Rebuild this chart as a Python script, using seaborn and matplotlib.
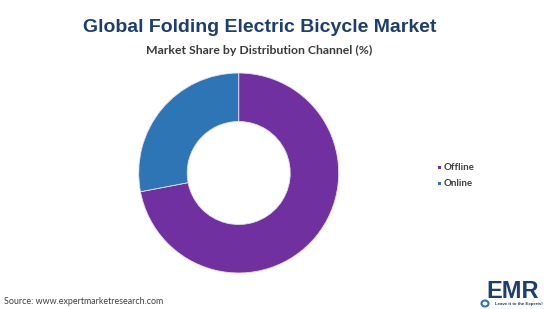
import matplotlib
matplotlib.use("Agg")
import matplotlib.pyplot as plt
import seaborn as sns

# Data
channels = ["Offline", "Online"]
shares = [72, 28]
colors = ["#7030A0", "#2E75B6"]

title = "Global Folding Electric Bicycle Market"
subtitle = "Market Share by Distribution Channel (%)"
source = "Source: www.expertmarketresearch.com"

sns.set_theme(style="white")
plt.rcParams['font.family'] = ['Liberation Sans', 'DejaVu Sans']

W, H = 550, 309
fig = plt.figure(figsize=(W / 100, H / 100), dpi=100)
fig.patch.set_facecolor("white")

# donut axes: center (238.7, 173), radius 100 px
cx, cy, r = 238.7, 173, 100
ax = fig.add_axes([(cx - r) / W, (H - cy - r) / H, 2 * r / W, 2 * r / H])
wedges, _ = ax.pie(shares, colors=colors, startangle=90, counterclock=False,
                   radius=1, wedgeprops=dict(width=0.485, edgecolor="#E8E0F0", linewidth=0.6))
ax.set_xlim(-1, 1)
ax.set_ylim(-1, 1)
ax.set_aspect("equal")
ax.axis("off")

# Title & subtitle
fig.text(260 / W, 1 - 28 / H, title, ha="center", va="center", fontsize=14,
         fontweight="bold", color="#1B3F70", family=['Liberation Sans'])
fig.text(259 / W, 1 - 50 / H, subtitle, ha="center", va="center", fontsize=8.8,
         fontweight="bold", color="#3A3A3A", family=['Lato'])

# Legend
for i, (lab, col) in enumerate(zip(channels, colors)):
    y = 167 + i * 16
    fig.patches.append(plt.Rectangle(((437.5) / W, 1 - (y + 2) / H), 3.5 / W, 3.5 / H,
                                     transform=fig.transFigure, facecolor=col, edgecolor="none"))
    fig.text(443.5 / W, 1 - y / H, lab, ha="left", va="center", fontsize=7,
             fontweight="bold", color="#404040", family=['Lato'])

# Source
fig.text(4 / W, 1 - 302 / H, source, ha="left", va="center", fontsize=6.4,
         color="#404040", family=['Lato'])

# Logo
fig.text(513 / W, 1 - 291 / H, "EMR", ha="center", va="center", fontsize=17,
         fontweight="bold", color="#1B3F70", family=['Liberation Sans'])
fig.text(519 / W, 1 - 304 / H, "Leave it to the Experts!", ha="center", va="center",
         fontsize=3.2, fontweight="bold", color="#1B3F70", family=['Liberation Sans'])
fig.patches.append(matplotlib.patches.Ellipse((485 / W, 1 - 303.5 / H), 7 / W, 6 / H,
                   transform=fig.transFigure, facecolor="none", edgecolor="#2E75B6", linewidth=1.5))

fig.savefig("out.png", dpi=100, facecolor="white")
